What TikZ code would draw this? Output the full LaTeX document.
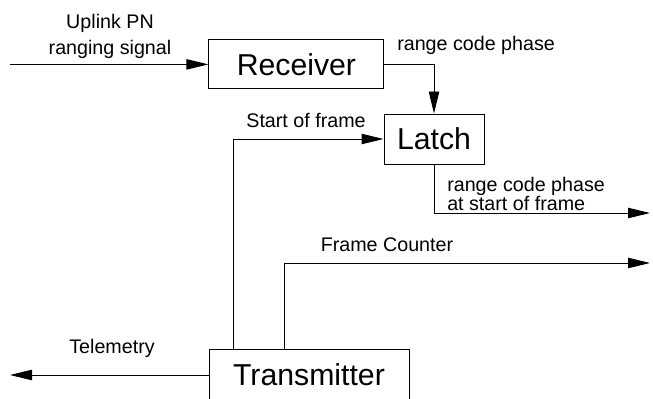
\documentclass[tikz,border=0pt]{standalone}
\usepackage{fontspec}
\setmainfont{Liberation Sans}
\usetikzlibrary{arrows.meta, positioning, calc}

\begin{document}
\begin{tikzpicture}[
  >={Triangle[length=5.5mm, width=2.6mm]},
  every node/.style={text=black, font=\fontsize{14}{15.5}\selectfont},
  blk/.style={draw=black, line width=0.7pt, font=\fontsize{21.5}{24}\selectfont, inner sep=0pt},
  sig/.style={draw=black, line width=0.7pt},
]

% Page size
\clip (0,0) rectangle (16.325,9.95);

% Blocks
\node[blk, minimum width=4.375cm, minimum height=1.225cm] (rx) at (7.41,8.34) {Receiver};
\node[blk, minimum width=2.5cm, minimum height=1.25cm] (latch) at (10.85,6.475) {Latch};
\node[blk, minimum width=5cm, minimum height=1.3cm] (tx) at (7.725,0.575) {Transmitter};

% Free ends
\coordinate (uplink) at (0.25,8.34);
\coordinate (lout) at (16.25,4.625);
\coordinate (fcout) at (16.25,3.375);
\coordinate (tlm) at (0.25,0.575);
\coordinate (sof) at ($(tx.north west)+(0.625,0)$);
\coordinate (fc) at ($(tx.north west)+(1.9,0)$);

% Connectors
\draw[sig, ->] (uplink) -- (rx.west);
\draw[sig, ->] (rx.east) -| (latch.north);
\draw[sig, ->] (sof) |- (latch.west);
\draw[sig, ->] (latch.south) |- (lout);
\draw[sig, ->] (fc) |- (fcout);
\draw[sig, ->] (tx.west) -- (tlm);

% Labels
\node[align=center, inner sep=0pt, font=\fontsize{14}{18.5}\selectfont] (uplbl) at (2.75,9.04) {Uplink PN\\ranging signal};
\node[anchor=west, inner sep=0pt] (rcplbl) at (9.925,8.825) {range code phase};
\node (soflbl) at (7.65,6.95) {Start of frame};
\node[anchor=west, align=left, inner sep=0pt, font=\fontsize{14}{13}\selectfont] (loutlbl) at (11.175,5.1) {range code phase\\at start of frame};
\node (fclbl) at (9.675,3.825) {Frame Counter};
\node (tlmlbl) at (2.8,1.25) {Telemetry};

\end{tikzpicture}
\end{document}
